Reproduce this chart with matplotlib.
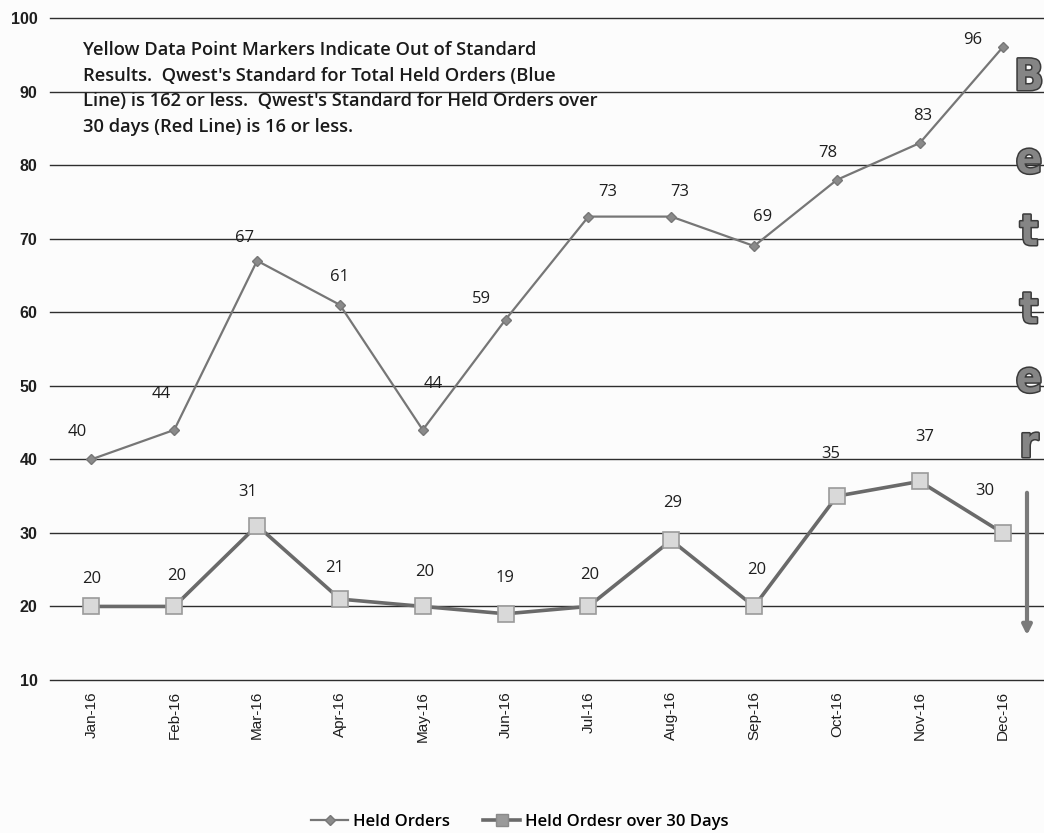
import matplotlib
matplotlib.use("Agg")
import matplotlib.pyplot as plt
import matplotlib.patheffects as pe
from matplotlib.lines import Line2D
from matplotlib.patches import FancyArrowPatch

months = ["Jan-16", "Feb-16", "Mar-16", "Apr-16", "May-16", "Jun-16",
          "Jul-16", "Aug-16", "Sep-16", "Oct-16", "Nov-16", "Dec-16"]
held_orders = [40, 44, 67, 61, 44, 59, 73, 73, 69, 78, 83, 96]
held_over_30 = [20, 20, 31, 21, 20, 19, 20, 29, 20, 35, 37, 30]
y_ticks = [10, 20, 30, 40, 50, 60, 70, 80, 90, 100]
legend_labels = ["Held Orders", "Held Ordesr over 30 Days"]
note = ("Yellow Data Point Markers Indicate Out of Standard\n"
        "Results.  Qwest's Standard for Total Held Orders (Blue\n"
        "Line) is 162 or less.  Qwest's Standard for Held Orders over\n"
        "30 days (Red Line) is 16 or less.")
side_word = "Better"

# label offsets in pixels (style only)
held_off = [(-14, 27), (-13, 36), (-13, 23), (0, 28), (10, 46), (-24, 21),
            (19, 25), (9, 25), (8, 29), (-9, 27), (3, 27), (-30, 7)]
h30_off = [(0, 27), (2, 30), (-9, 34), (-5, 31), (2, 34), (-1, 36),
           (1, 31), (1, 37), (3, 36), (-6, 42), (5, 44), (-18, 42)]

W, H = 1044, 833
fig = plt.figure(figsize=(W / 100, H / 100), dpi=100)
fig.patch.set_facecolor("#fcfcfc")
ax = fig.add_axes([50 / W, (H - 680) / H, (1044 - 50) / W, (680 - 18) / H])
ax.set_facecolor("none")

narrow = ["Liberation Sans Narrow", "Open Sans", "DejaVu Sans"]

x = list(range(len(months)))
ax.set_xlim(-0.5, len(months) - 0.5)
ax.set_ylim(10, 100)
ax.set_yticks(y_ticks)
ax.set_xticks(x)
ax.set_xticklabels(months, rotation=90, fontsize=11,
                   family="Liberation Sans", color="#1e1e1e")
ax.set_yticklabels([str(v) for v in y_ticks], fontsize=11.5,
                   fontweight="bold", family="Liberation Sans", color="#1e1e1e")
ax.tick_params(axis="both", length=0)
ax.tick_params(axis="y", pad=9)
ax.tick_params(axis="x", pad=8)
for s in ax.spines.values():
    s.set_visible(False)
ax.grid(axis="y", color="#2e2e2e", linewidth=1.0)
for gl in ax.get_ygridlines():
    gl.set_clip_on(False)
ax.set_axisbelow(True)

ax.plot(x, held_orders, color="#767676", linewidth=1.6, marker="D",
        markersize=5, markerfacecolor="#8a8a8a", markeredgecolor="#777777",
        zorder=3)
ax.plot(x, held_over_30, color="#6a6a6a", linewidth=2.6, marker="s",
        markersize=11, markerfacecolor="#d9d9d9", markeredgecolor="#9a9a9a",
        markeredgewidth=1.2, zorder=3)

for i, v in enumerate(held_orders):
    dx, dy = held_off[i]
    ax.annotate(str(v), (i, v), xytext=(dx * 0.72, dy * 0.72),
                textcoords="offset points", ha="center", va="center",
                fontsize=12, family=narrow, color="#1e1e1e", zorder=4)
for i, v in enumerate(held_over_30):
    dx, dy = h30_off[i]
    ax.annotate(str(v), (i, v), xytext=(dx * 0.72, dy * 0.72),
                textcoords="offset points", ha="center", va="center",
                fontsize=12, family=narrow, color="#1e1e1e", zorder=4)

fig.text(83 / W, 1 - 41 / H, note, ha="left", va="top", fontsize=13.2,
         family=narrow, weight="semibold", color="#1a1a1a", linespacing=1.55)

letter_y = [78, 161, 233, 311, 380, 445]
for ch, yy in zip(side_word, letter_y):
    fig.text(1029 / W, 1 - yy / H, ch, ha="center", va="center",
             fontsize=31, fontweight="heavy", family="DejaVu Sans",
             fontstretch="condensed", color="#858585",
             path_effects=[pe.Stroke(linewidth=2.2, foreground="#3a3a3a"),
                           pe.Normal()])
fig.patches.append(FancyArrowPatch(
    (1027 / W, 1 - 490 / H), (1027 / W, 1 - 638 / H),
    transform=fig.transFigure, arrowstyle="-|>", mutation_scale=14,
    color="#7a7a7a", linewidth=3))

handles = [
    Line2D([], [], color="#767676", linewidth=1.6, marker="D", markersize=5,
           markerfacecolor="#8a8a8a", markeredgecolor="#777777"),
    Line2D([], [], color="#6a6a6a", linewidth=2.6, marker="s", markersize=8,
           markerfacecolor="#9a9a9a", markeredgecolor="#8a8a8a"),
]
fig.legend(handles, legend_labels, loc="center", ncol=2,
           bbox_to_anchor=(520 / W, 1 - 822 / H), frameon=False,
           prop={"family": narrow, "size": 12, "weight": "semibold"},
           handlelength=2.2, columnspacing=2.0, handletextpad=0.3)

fig.savefig("out.png", dpi=100, facecolor=fig.get_facecolor())
